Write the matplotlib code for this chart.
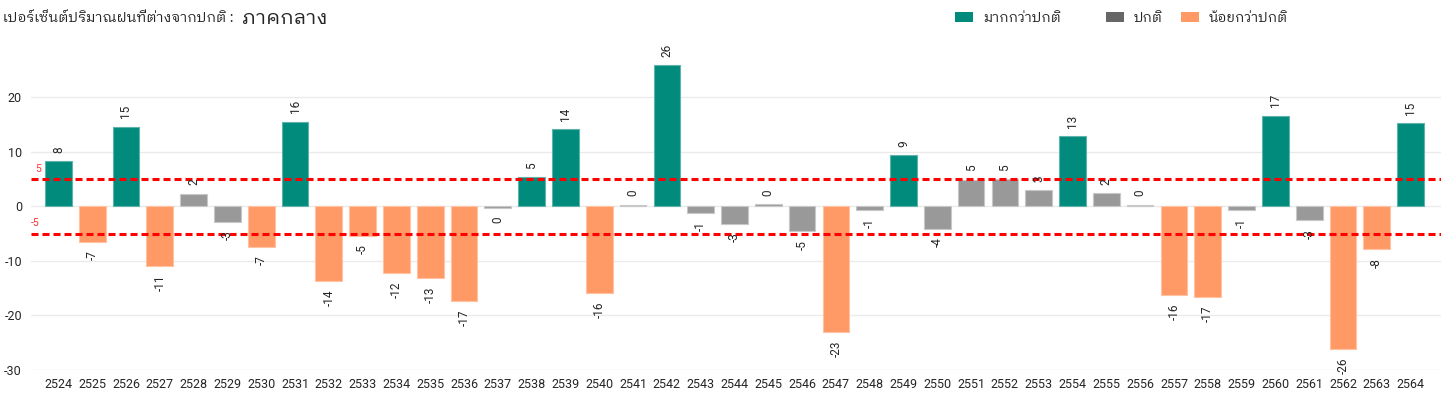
import matplotlib
matplotlib.use("Agg")
import matplotlib.pyplot as plt
from matplotlib.patches import Patch

# ---------------- data ----------------
years = [str(y) for y in range(2524, 2565)]
values = [8.3, -6.6, 14.6, -10.9, 2.3, -2.8, -7.4, 15.5, -13.7, -5.4, -12.2, -13.1, -17.4,
          -0.4, 5.3, 14.1, -15.9, 0.3, 25.9, -1.2, -3.3, 0.4, -4.6, -23.0, -0.6, 9.4, -4.1,
          4.9, 5.0, 3.0, 12.8, 2.4, 0.3, -16.3, -16.7, -0.7, 16.6, -2.6, -26.1, -7.9, 15.2]
threshold = 5
y_ticks = [-30, -20, -10, 0, 10, 20]
title_main = "เปอร์เซ็นต์ปริมาณฝนที่ต่างจากปกติ :"
title_region = "ภาคกลาง"
legend_labels = ["มากกว่าปกติ", "ปกติ", "น้อยกว่าปกติ"]

# ---------------- style ----------------
thai = ["IBM Plex Sans Thai Looped", "DejaVu Sans"]
num_font = "Roboto"

C_MORE = "#008B7D"
C_NORM = "#999999"
C_NORM_LEG = "#666666"
C_LESS = "#FF9966"
TXT = "#252525"

colors = [C_MORE if v > threshold else (C_LESS if v < -threshold else C_NORM) for v in values]
edges = ["#5FB3AA" if c == C_MORE else ("#FFC2A3" if c == C_LESS else "#C8C8C8") for c in colors]

fig = plt.figure(figsize=(14.41, 3.98), dpi=100)
ax = fig.add_axes([31/1441, 28/398, 1410/1441, 322/398])

x = list(range(len(years)))
ax.bar(x, values, width=0.79, color=colors, edgecolor=edges, linewidth=0.8, zorder=3)

for xi, v in zip(x, values):
    lab = str(int(round(v)))
    if v >= 0:
        ax.annotate(lab, (xi, v), xytext=(0, 6), textcoords="offset points", rotation=90,
                    ha="center", va="bottom", fontsize=8.5, color=TXT, family=num_font,
                    annotation_clip=False, zorder=5)
    else:
        ax.annotate(lab, (xi, v), xytext=(0, -6), textcoords="offset points", rotation=90,
                    ha="center", va="top", fontsize=8.5, color=TXT, family=num_font,
                    annotation_clip=False, zorder=5)

for t in (threshold, -threshold):
    ax.axhline(t, color="#FF0000", lw=2.2, linestyle=(0, (2.3, 1.3)), zorder=4)
ax.text(0.003, threshold + 1.0, str(threshold), transform=ax.get_yaxis_transform(),
        color="#FF3333", fontsize=7.5, family=num_font, va="bottom", ha="left")
ax.text(0.0, -threshold + 1.0, str(-threshold), transform=ax.get_yaxis_transform(),
        color="#FF3333", fontsize=7.5, family=num_font, va="bottom", ha="left")

ax.set_xlim(-0.81, len(years) - 1 + 0.9)
ax.set_ylim(-30, 29)
ax.set_yticks(y_ticks)
ax.set_yticklabels([str(t) for t in y_ticks], family=num_font, fontsize=9, color=TXT)
ax.set_xticks(x)
ax.set_xticklabels(years, family=num_font, fontsize=9, color=TXT)
ax.tick_params(axis="both", length=0)
ax.tick_params(axis="y", pad=6.5)
ax.tick_params(axis="x", pad=6)
ax.yaxis.grid(True, color="#EBEBEB", lw=1, zorder=0)
ax.set_axisbelow(True)
for s in ax.spines.values():
    s.set_visible(False)

fig.text(3/1441, 1 - 18/398, title_main, family=thai, fontsize=10.2,
         color=TXT, va="center", ha="left")
fig.text(242/1441, 1 - 18/398, title_region, family=thai, fontsize=14.5,
         color=TXT, va="center", ha="left")

leg_colors = [C_MORE, C_NORM_LEG, C_LESS]
leg_x = [955, 1106, 1181]
for lc, lab, lx in zip(leg_colors, legend_labels, leg_x):
    fig.legend([Patch(facecolor=lc)], [lab], loc="center left",
               bbox_to_anchor=(lx/1441, 1 - 18/398), frameon=False,
               prop={"family": thai, "size": 10},
               handlelength=1.3, handleheight=0.75, handletextpad=0.7,
               labelcolor=TXT, borderaxespad=0, borderpad=0)

fig.savefig("out.png", dpi=100)
